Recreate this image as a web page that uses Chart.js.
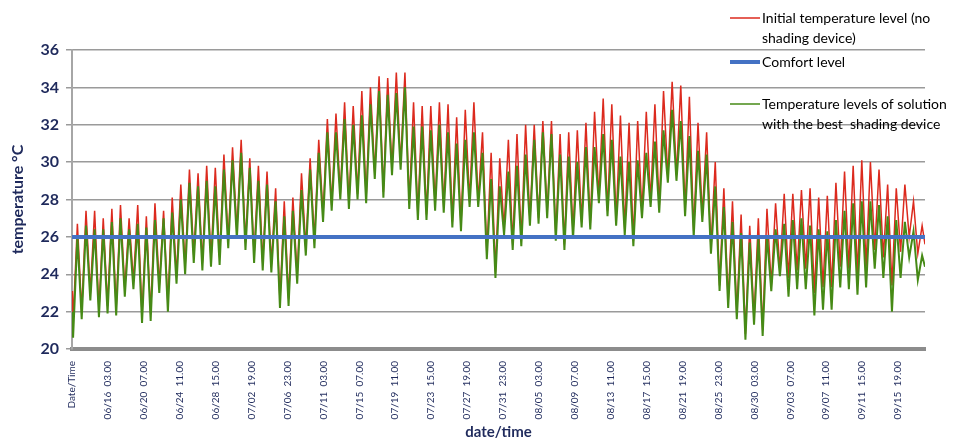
<!DOCTYPE html>
<html>
<head>
<meta charset="utf-8">
<script src="https://cdn.jsdelivr.net/npm/chart.js@4/dist/chart.umd.min.js"></script>
<style>
  html, body { margin: 0; padding: 0; background: #fff; }
</style>
</head>
<body>
<canvas id="grafica" width="958" height="442"></canvas>
<script>
// x axis labels, one every 100 hourly rows
const tickLabels = [
  'Date/Time', '06/16  03.00', '06/20  07.00', '06/24  11.00', '06/28  15.00', '07/02  19.00',
  '07/06  23.00', '07/11  03.00', '07/15  07.00', '07/19  11.00', '07/23  15.00', '07/27  19.00',
  '07/31  23.00', '08/05  03.00', '08/09  07.00', '08/13  11.00', '08/17  15.00', '08/21  19.00',
  '08/25  23.00', '08/30  03.00', '09/03  07.00', '09/07  11.00', '09/11  15.00', '09/15  19.00'
]

// daily low / high (°C), one value per day from 06/12
const greenLow = [
  20.6, 21.6, 22.6, 21.7, 21.9, 21.8, 22.8, 23.2, 21.4, 21.5,
  23.0, 22.0, 23.5, 24.0, 24.6, 24.2, 24.4, 24.5, 25.4, 25.9,
  25.3, 24.6, 24.2, 24.1, 22.2, 22.3, 23.5, 25.0, 25.4, 26.8,
  27.4, 28.0, 27.5, 28.0, 27.8, 29.1, 28.1, 29.3, 29.6, 27.5,
  26.9, 26.9, 27.4, 27.3, 26.5, 26.3, 27.6, 27.6, 24.8, 23.8,
  26.1, 25.3, 25.5, 26.6, 26.7, 27.0, 25.8, 25.3, 25.9, 26.5,
  26.4, 27.8, 27.1, 26.6, 26.1, 25.5, 27.0, 27.6, 27.3, 28.9,
  29.0, 27.1, 26.0, 26.8, 25.1, 23.1, 22.2, 21.6, 20.5, 21.3,
  20.7, 23.1, 23.9, 22.8, 23.2, 23.2, 21.8, 22.1, 22.1, 23.3,
  23.2, 22.9, 23.3, 24.3, 23.8, 22.0, 23.8, 24.9, 23.7
]
const greenHigh = [
  26.0, 26.6, 26.4, 26.4, 26.8, 27.0, 26.4, 26.7, 26.5, 26.9,
  27.0, 27.3, 28.0, 28.9, 28.7, 29.0, 28.7, 29.6, 30.1, 30.5,
  29.7, 29.0, 28.8, 27.9, 27.1, 27.4, 28.5, 29.6, 30.5, 31.6,
  31.6, 32.3, 32.0, 32.5, 33.1, 33.8, 33.6, 33.7, 34.0, 31.9,
  31.9, 31.7, 32.0, 31.6, 31.0, 31.2, 31.6, 30.5, 29.1, 28.7,
  29.5, 29.8, 30.4, 31.2, 31.6, 31.5, 30.4, 30.3, 30.0, 30.8,
  30.8, 31.5, 31.2, 30.3, 30.0, 30.1, 30.5, 31.1, 31.7, 32.8,
  32.2, 31.4, 30.6, 30.4, 28.7, 27.6, 26.8, 26.2, 25.7, 25.9,
  26.1, 26.4, 26.7, 26.9, 27.0, 26.6, 26.4, 26.3, 26.9, 27.4,
  27.8, 27.9, 27.9, 27.7, 27.1, 26.9, 26.8, 26.3, 25.0
]
const redLow = [
  21.4, 22.0, 23.0, 22.1, 22.3, 22.2, 23.2, 23.6, 21.8, 21.9,
  23.4, 22.4, 23.9, 24.4, 25.0, 24.6, 24.8, 24.9, 25.8, 26.3,
  25.7, 25.0, 24.6, 24.5, 22.6, 22.7, 23.9, 25.4, 25.8, 27.2,
  27.7, 28.3, 27.8, 28.3, 28.1, 29.4, 28.4, 29.6, 29.9, 27.8,
  27.2, 27.2, 27.7, 27.6, 26.8, 26.6, 27.9, 27.9, 25.1, 24.1,
  26.4, 25.6, 25.8, 26.9, 27.0, 27.3, 26.1, 25.6, 26.2, 26.8,
  26.7, 28.1, 27.4, 26.9, 26.4, 25.8, 27.3, 27.9, 27.6, 29.2,
  29.3, 27.4, 26.3, 27.1, 25.4, 23.4, 22.5, 21.9, 20.8, 21.6,
  21.0, 23.4, 24.2, 23.8, 24.2, 24.3, 23.0, 23.3, 23.3, 24.4,
  24.3, 24.0, 24.4, 25.3, 24.9, 23.4, 25.2, 26.0, 25.1
]
const redHigh = [
  26.7, 27.4, 27.4, 27.0, 27.5, 27.7, 27.0, 27.7, 27.1, 27.8,
  27.4, 28.1, 28.8, 29.6, 29.4, 29.8, 29.7, 30.4, 30.8, 31.2,
  30.2, 29.8, 29.5, 28.6, 27.9, 28.1, 29.4, 30.2, 31.2, 32.3,
  32.6, 33.2, 33.0, 33.8, 34.0, 34.6, 34.5, 34.8, 34.8, 33.2,
  33.0, 33.0, 33.2, 33.1, 32.4, 32.8, 33.2, 31.6, 30.5, 30.2,
  31.2, 31.5, 32.0, 32.0, 32.2, 32.2, 31.5, 31.6, 31.7, 32.1,
  32.7, 33.4, 33.1, 32.5, 32.1, 32.2, 32.7, 33.1, 33.8, 34.3,
  34.1, 33.5, 32.1, 31.6, 30.0, 28.6, 27.9, 27.2, 26.6, 27.0,
  27.5, 27.8, 28.3, 28.3, 28.5, 28.6, 28.1, 28.2, 28.9, 29.5,
  29.8, 30.1, 30.0, 29.6, 28.8, 28.6, 28.8, 27.9, 26.6
]
// first and last rows
const redEnds = [23.1, 25.6]
const greenEnds = [22.0, 24.4]
const comfortLevel = 26

const LAST_ROW = 2375
const LOW_HOUR = 2
const HIGH_HOUR = 14

const NAVY = '#1f2a5c'
const RED = '#dc2a1e'
const GREEN = '#468a16'
const BLUE = '#4472c4'

function buildSeries(ends, lows, highs) {
  const pts = [{ x: 1, y: ends[0] }]
  lows.forEach(function(lo, d) {
    pts.push({ x: 1 + d * 24 + LOW_HOUR, y: lo })
    pts.push({ x: 1 + d * 24 + HIGH_HOUR, y: highs[d] })
  })
  pts.push({ x: LAST_ROW, y: ends[1] })
  return pts
}

// legend sits on top of the plot, upper right
const legendPlugin = {
  id: 'sideLegend',
  afterDraw(chart) {
    const ctx = chart.ctx
    const items = [
      { ds: 0, y: 18, w: 1.5 },
      { ds: 2, y: 62, w: 4 },
      { ds: 1, y: 104, w: 1.5 },
    ]
    ctx.save()
    ctx.font = '14px Lato, "Open Sans", sans-serif'
    ctx.fillStyle = '#000'
    ctx.textBaseline = 'middle'
    items.forEach(function(it) {
      const ds = chart.data.datasets[it.ds]
      ctx.strokeStyle = ds.borderColor
      ctx.lineWidth = it.w
      ctx.beginPath()
      ctx.moveTo(730, it.y)
      ctx.lineTo(760, it.y)
      ctx.stroke()
      ds.label.forEach(function(line, i) {
        ctx.fillText(line, 762, it.y + i * 20)
      })
    })
    ctx.restore()
  }
}

Chart.defaults.font.family = 'Lato, "Open Sans", sans-serif'

new Chart(document.getElementById('grafica'), {
  type: 'line',
  data: {
    datasets: [
      {
        label: ['Initial temperature level (no', 'shading device)'],
        data: buildSeries(redEnds, redLow, redHigh),
        borderColor: RED,
        borderWidth: 1.5,
        order: 3,
      },
      {
        label: ['Temperature levels of solution', 'with the best  shading device'],
        data: buildSeries(greenEnds, greenLow, greenHigh),
        borderColor: GREEN,
        borderWidth: 2,
        order: 2,
      },
      {
        label: ['Comfort level'],
        data: [{ x: 0, y: comfortLevel }, { x: LAST_ROW, y: comfortLevel }],
        borderColor: BLUE,
        borderWidth: 4,
        order: 1,
      },
    ]
  },
  options: {
    responsive: false,
    animation: false,
    events: [],
    elements: { point: { radius: 0 }, line: { tension: 0 } },
    layout: { padding: { top: 50, right: 33, left: 0, bottom: 0 } },
    plugins: { legend: { display: false }, tooltip: { enabled: false } },
    scales: {
      x: {
        type: 'linear',
        min: 0,
        max: LAST_ROW,
        afterFit: function(s) { s.height = 93 },
        grid: { display: false },
        border: { color: '#8c8c8c', width: 4 },
        ticks: {
          stepSize: 100,
          includeBounds: false,
          autoSkip: false,
          minRotation: 90,
          maxRotation: 90,
          padding: 4,
          color: NAVY,
          font: { size: 10 },
          callback: function(v) { return tickLabels[v / 100] }
        },
        title: {
          display: true,
          text: 'date/time',
          color: NAVY,
          font: { size: 15, weight: 'bold' },
          padding: { top: 0, bottom: 1 }
        }
      },
      y: {
        min: 20,
        max: 36,
        afterFit: function(s) { s.width = 72 },
        grid: { color: '#9a9a9a', lineWidth: 1.5, tickLength: 6 },
        border: { color: '#a6a6a6', width: 2 },
        ticks: {
          stepSize: 2,
          padding: 7,
          color: NAVY,
          font: { size: 16, weight: 'bold' }
        },
        title: {
          display: true,
          text: 'temperature °C',
          color: NAVY,
          font: { size: 16, weight: 'bold' },
          padding: { top: 8, bottom: 0 }
        }
      }
    }
  },
  plugins: [legendPlugin]
})
</script>
</body>
</html>
